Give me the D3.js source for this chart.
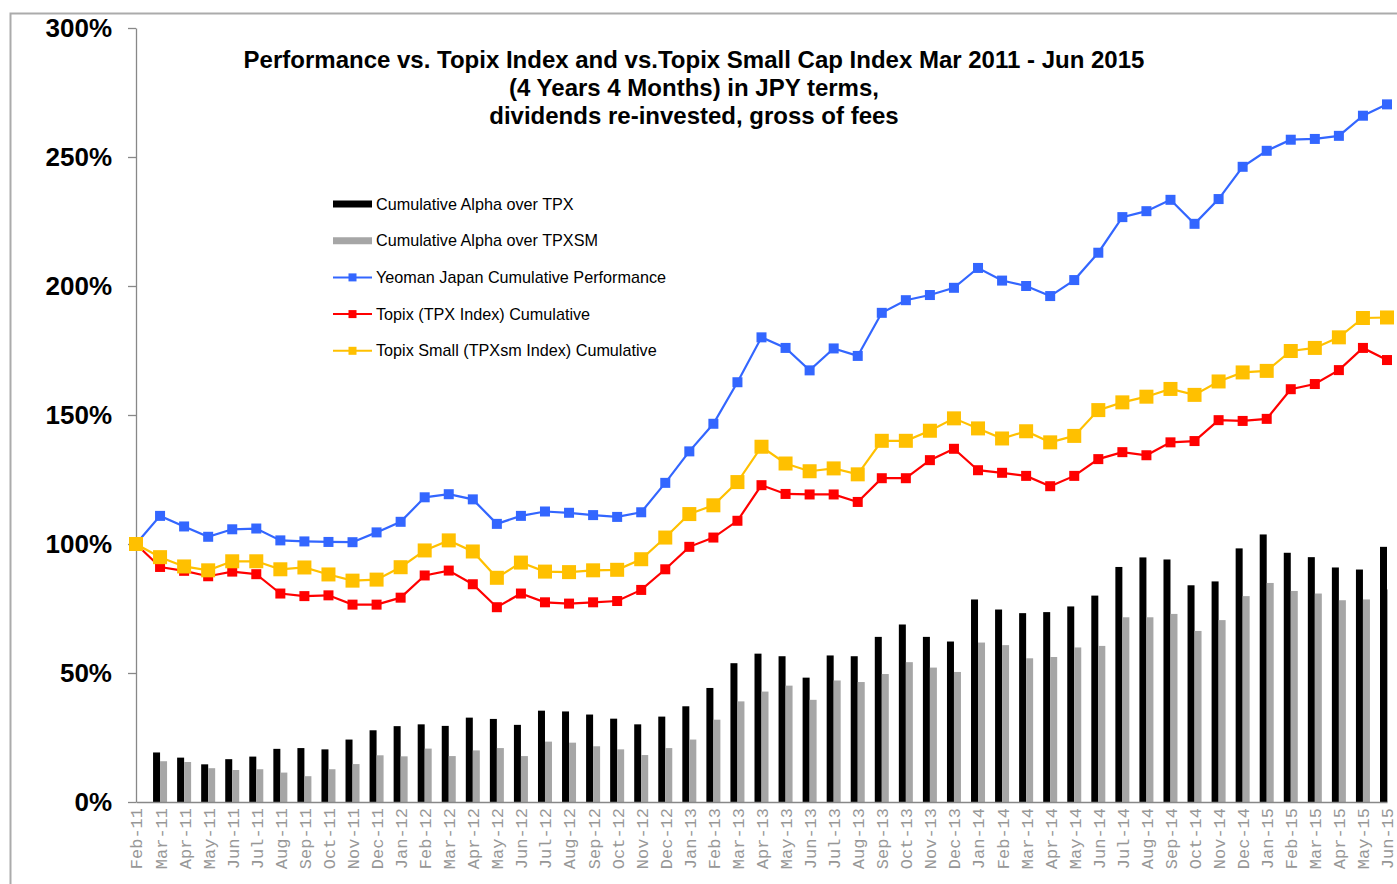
<!DOCTYPE html>
<html>
<head>
<meta charset="utf-8">
<script src="https://cdn.jsdelivr.net/npm/d3@7"></script>
<style>
    body { margin: 0; background: #fff; }
    svg { display: block; }
</style>
</head>
<body>
<svg id="perf-chart"></svg>
<script>
var months = [
    'Feb-11', 'Mar-11', 'Apr-11', 'May-11', 'Jun-11', 'Jul-11', 'Aug-11', 'Sep-11', 'Oct-11', 'Nov-11', 'Dec-11',
    'Jan-12', 'Feb-12', 'Mar-12', 'Apr-12', 'May-12', 'Jun-12', 'Jul-12', 'Aug-12', 'Sep-12', 'Oct-12', 'Nov-12', 'Dec-12',
    'Jan-13', 'Feb-13', 'Mar-13', 'Apr-13', 'May-13', 'Jun-13', 'Jul-13', 'Aug-13', 'Sep-13', 'Oct-13', 'Nov-13', 'Dec-13',
    'Jan-14', 'Feb-14', 'Mar-14', 'Apr-14', 'May-14', 'Jun-14', 'Jul-14', 'Aug-14', 'Sep-14', 'Oct-14', 'Nov-14', 'Dec-14',
    'Jan-15', 'Feb-15', 'Mar-15', 'Apr-15', 'May-15', 'Jun-15'
];

// cumulative performance, % (Feb-11 = 100)
var yeoman = [100,
    110.9, 106.8, 102.8, 105.7, 106.0, 101.4, 101.0, 100.8, 100.7, 104.5,
    108.6, 118.1, 119.3, 117.3, 107.8, 110.9, 112.6, 112.1, 111.2, 110.5, 112.3, 123.7,
    135.9, 146.6, 162.7, 180.1, 176.0, 167.3, 175.8, 172.9, 189.6, 194.5, 196.5, 199.3,
    207.0, 202.1, 200.0, 196.1, 202.3, 212.9, 226.7, 229.0, 233.4, 224.1, 233.7, 246.2,
    252.4, 256.7, 257.0, 258.2, 266.0, 270.4];
var topix = [100,
    91.1, 89.6, 87.5, 89.3, 88.3, 80.8, 79.8, 80.1, 76.5, 76.5,
    79.2, 87.8, 89.7, 84.4, 75.5, 80.8, 77.4, 76.9, 77.4, 77.9, 82.2, 90.2,
    98.9, 102.5, 109.0, 122.8, 119.4, 119.2, 119.2, 116.3, 125.5, 125.5, 132.5, 136.9,
    128.6, 127.6, 126.4, 122.4, 126.4, 132.9, 135.6, 134.4, 139.4, 139.9, 148.0, 147.7,
    148.5, 160.0, 162.0, 167.4, 176.0, 171.3];
var topixSmall = [100,
    94.9, 91.3, 89.8, 93.3, 93.3, 90.2, 90.9, 88.2, 85.8, 86.2,
    91.0, 97.5, 101.4, 97.1, 86.9, 92.8, 89.3, 89.1, 89.8, 90.0, 94.1, 102.5,
    111.6, 115.0, 124.0, 137.7, 131.2, 128.2, 129.3, 127.0, 140.0, 140.0, 143.9, 148.7,
    144.8, 140.9, 143.7, 139.4, 141.9, 151.9, 154.9, 157.1, 160.1, 157.8, 163.0, 166.5,
    167.1, 174.8, 176.0, 180.1, 187.6, 187.8];

// cumulative alpha, %
var alphaTpx = [null,
    19.2, 17.2, 14.6, 16.6, 17.6, 20.6, 20.9, 20.4, 24.2, 27.8,
    29.4, 30.1, 29.5, 32.7, 32.2, 29.9, 35.4, 35.1, 33.9, 32.3, 30.1, 33.1,
    37.1, 44.2, 53.8, 57.5, 56.5, 48.2, 56.8, 56.5, 64.0, 68.8, 64.0, 62.2,
    78.5, 74.6, 73.2, 73.6, 75.8, 80.0, 91.1, 94.8, 94.0, 84.0, 85.5, 98.3,
    103.7, 96.6, 94.9, 90.9, 90.1, 98.9];
var alphaTpxsm = [null,
    15.8, 15.5, 13.1, 12.4, 12.7, 11.4, 10.0, 12.7, 14.7, 18.1,
    17.7, 20.7, 17.8, 20.0, 20.9, 17.8, 23.4, 23.0, 21.6, 20.4, 18.2, 20.9,
    24.2, 31.9, 39.0, 42.8, 45.1, 39.6, 47.1, 46.5, 49.6, 54.2, 52.1, 50.4,
    61.8, 60.8, 55.7, 56.2, 59.9, 60.5, 71.6, 71.6, 72.9, 66.3, 70.5, 79.8,
    84.9, 81.8, 80.8, 78.2, 78.5, 82.4];

var yTicks = [0, 50, 100, 150, 200, 250, 300];

var titleLines = [
    'Performance vs. Topix Index and vs.Topix Small Cap Index Mar 2011 - Jun 2015',
    '(4 Years 4 Months) in JPY terms,',
    'dividends re-invested, gross of fees'
];

var barSeries = [
    {name: 'Cumulative Alpha over TPX', values: alphaTpx, color: '#000000'},
    {name: 'Cumulative Alpha over TPXSM', values: alphaTpxsm, color: '#a6a6a6'}
];
var lineSeries = [
    {name: 'Yeoman Japan Cumulative Performance', values: yeoman, color: '#3366ff', marker: 10},
    {name: 'Topix (TPX Index) Cumulative', values: topix, color: '#ff0000', marker: 10},
    {name: 'Topix Small (TPXsm Index) Cumulative', values: topixSmall, color: '#ffc000', marker: 14}
];

var W = 1397, H = 884;
var plot = {left: 136, right: 1388, top: 28, bottom: 802};
var SANS = '"Liberation Sans", Arial, sans-serif';

var svg = d3.select('svg#perf-chart')
    .attr('width', W)
    .attr('height', H);

// outer chart border (runs off right / bottom edges)
svg.append('rect')
    .attr('x', 10.5).attr('y', 13.5)
    .attr('width', W + 20).attr('height', H + 20)
    .style('fill', 'none')
    .style('stroke', '#ababab')
    .style('stroke-width', 2);

var x = d3.scalePoint().domain(months).range([plot.left, 1387]);
var y = d3.scaleLinear().domain([0, 300]).range([plot.bottom, plot.top]);
var xSub = d3.scaleBand().domain(barSeries.map(function(s) { return s.name; })).range([-7, 7]);

svg.append('clipPath').attr('id', 'plot-clip')
    .append('rect')
    .attr('x', plot.left).attr('y', 0)
    .attr('width', plot.right - plot.left).attr('height', plot.bottom);

// bars
var barLayer = svg.append('g').attr('clip-path', 'url(#plot-clip)');
barSeries.forEach(function(s) {
    barLayer.append('g').selectAll('rect')
        .data(months.map(function(m, i) { return {month: m, value: s.values[i]}; })
            .filter(function(d) { return d.value != null; }))
        .enter().append('rect')
        .attr('x', function(d) { return x(d.month) + xSub(s.name); })
        .attr('width', xSub.bandwidth())
        .attr('y', function(d) { return y(d.value); })
        .attr('height', function(d) { return y(0) - y(d.value); })
        .style('fill', s.color);
});

// y axis
var yAxis = d3.axisLeft(y)
    .tickValues(yTicks)
    .tickSize(8)
    .tickSizeOuter(0)
    .tickPadding(16)
    .tickFormat(function(d) { return d + '%'; });
var gy = svg.append('g')
    .attr('transform', 'translate(' + plot.left + ',0)')
    .call(yAxis);
gy.select('.domain').style('stroke', '#888').style('stroke-width', 1.3);
gy.selectAll('.tick line').style('stroke', '#888').style('stroke-width', 1.3);
gy.selectAll('.tick text')
    .style('font-family', SANS)
    .style('font-size', '26px')
    .style('font-weight', 'bold')
    .style('fill', '#000');

// x axis
var xAxis = d3.axisBottom(x).tickSize(0).tickSizeOuter(0).tickPadding(0);
var gx = svg.append('g')
    .attr('transform', 'translate(0,' + plot.bottom + ')')
    .call(xAxis);
gx.select('.domain').style('stroke', '#888').style('stroke-width', 1.3);
gx.selectAll('.tick text')
    .attr('transform', 'rotate(-90)')
    .attr('x', -6).attr('y', 0).attr('dy', '0.35em')
    .style('text-anchor', 'end')
    .style('font-family', '"Liberation Mono", "Courier New", monospace')
    .style('font-size', '17px')
    .style('fill', '#979797');

// lines with square markers
var line = d3.line()
    .x(function(d) { return x(d.month); })
    .y(function(d) { return y(d.value); });
lineSeries.forEach(function(s) {
    var pts = months.map(function(m, i) { return {month: m, value: s.values[i]}; });
    var g = svg.append('g');
    g.append('path')
        .attr('d', line(pts))
        .style('fill', 'none')
        .style('stroke', s.color)
        .style('stroke-width', 2.2);
    g.selectAll('rect').data(pts).enter().append('rect')
        .attr('x', function(d) { return x(d.month) - s.marker / 2; })
        .attr('y', function(d) { return y(d.value) - s.marker / 2; })
        .attr('width', s.marker).attr('height', s.marker)
        .style('fill', s.color);
});

// title
svg.append('text')
    .attr('x', 694).attr('y', 68)
    .style('font-family', SANS)
    .style('font-size', '24px')
    .style('font-weight', 'bold')
    .style('text-anchor', 'middle')
    .selectAll('tspan').data(titleLines).enter().append('tspan')
    .attr('x', 694)
    .attr('dy', function(d, i) { return i ? 28 : 0; })
    .text(function(d) { return d; });

// legend
var legendItems = barSeries.map(function(s) { return {name: s.name, color: s.color, bar: true}; })
    .concat(lineSeries.map(function(s) { return {name: s.name, color: s.color, bar: false}; }));
var legend = svg.append('g').attr('transform', 'translate(333,204)');
var li = legend.selectAll('g').data(legendItems).enter().append('g')
    .attr('transform', function(d, i) { return 'translate(0,' + (i * 36.7) + ')'; });
li.append('line')
    .attr('x1', 0).attr('x2', 39).attr('y1', 0).attr('y2', 0)
    .style('stroke', function(d) { return d.color; })
    .style('stroke-width', function(d) { return d.bar ? 7 : 2; });
li.filter(function(d) { return !d.bar; }).append('rect')
    .attr('x', 15.5).attr('y', -4).attr('width', 8).attr('height', 8)
    .style('fill', function(d) { return d.color; });
li.append('text')
    .attr('x', 43).attr('y', 0).attr('dy', '0.35em')
    .style('font-family', SANS)
    .style('font-size', '16.2px')
    .text(function(d) { return d.name; });
</script>
</body>
</html>
